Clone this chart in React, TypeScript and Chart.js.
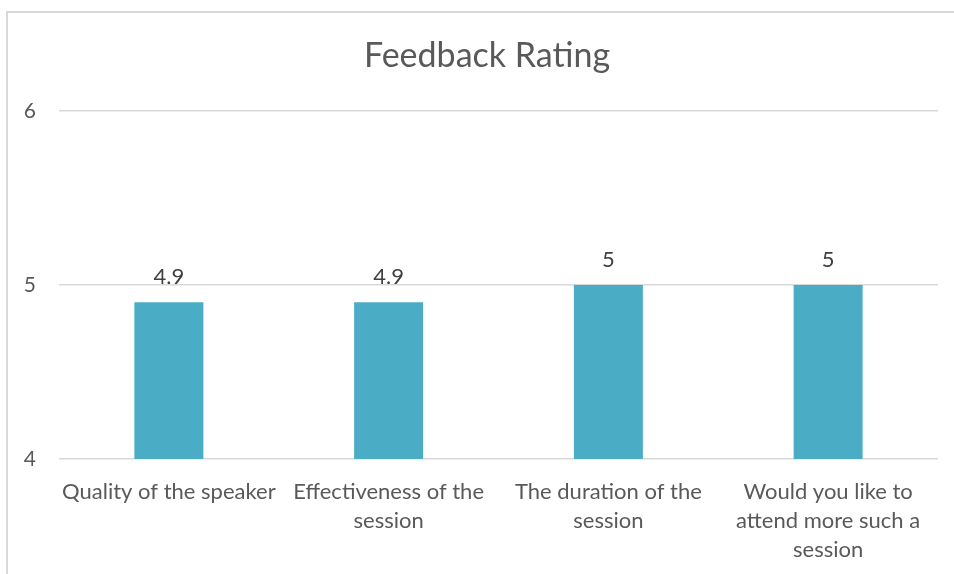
import React, { useEffect, useRef } from "react";
import { Chart, registerables } from "chart.js";

Chart.register(...registerables);

const chartTitle = "Feedback Rating";
const categories: string[][] = [
  ["Quality of the speaker"],
  ["Effectiveness of the", "session"],
  ["The duration of the", "session"],
  ["Would you like to", "attend more such a", "session"],
];
const ratings: number[] = [4.9, 4.9, 5, 5];
const yMin = 4;
const yMax = 6;
const yStep = 1;

const FONT = "Lato, 'Open Sans', sans-serif";

const dataLabels = {
  id: "dataLabels",
  afterDatasetsDraw(chart: any) {
    const ctx = chart.ctx;
    const meta = chart.getDatasetMeta(0);
    const ds = chart.data.datasets[0];
    ctx.save();
    ctx.font = `22px ${FONT}`;
    ctx.fillStyle = "#404040";
    ctx.textAlign = "center";
    ctx.textBaseline = "alphabetic";
    meta.data.forEach((bar: any, i: number) => {
      ctx.fillText(String(ds.data[i]), bar.x, bar.y - 18);
    });
    ctx.restore();
  },
};

export default function App() {
  const ref = useRef<HTMLCanvasElement | null>(null);
  useEffect(() => {
    if (!ref.current) return;
    const chart = new Chart(ref.current, {
      type: "bar",
      data: {
        labels: categories,
        datasets: [
          {
            data: ratings,
            backgroundColor: "#4BACC6",
            barPercentage: 0.314,
            categoryPercentage: 1,
            yAxisID: "y",
          },
        ],
      },
      options: {
        animation: false,
        responsive: false,
        layout: { padding: { left: 0, right: 0, top: 0, bottom: 0 } },
        plugins: {
          legend: { display: false },
          tooltip: { enabled: false },
          title: {
            display: true,
            text: chartTitle,
            color: "#595959",
            font: { family: FONT, size: 34, weight: "normal" as any, lineHeight: 1.2 },
            padding: { top: 36, bottom: 34 },
          },
        },
        scales: {
          x: {
            grid: { display: false, drawTicks: false },
            border: { display: false },
            ticks: {
              color: "#595959",
              font: { family: FONT, size: 22, lineHeight: 1.318 },
              padding: 18,
              maxRotation: 0,
              autoSkip: false,
            },
            afterFit: (s: any) => {
              s.height = 115;
            },
          },
          y: {
            position: "left",
            min: yMin,
            max: yMax,
            ticks: {
              stepSize: yStep,
              color: "#595959",
              font: { family: FONT, size: 21 },
              padding: 23,
            },
            grid: { color: "#d9d9d9", lineWidth: 1.5, drawTicks: false },
            border: { display: false },
            afterFit: (s: any) => {
              s.width = 59;
            },
          },
          yRight: {
            position: "right",
            min: yMin,
            max: yMax,
            ticks: { display: false },
            grid: { display: false, drawTicks: false },
            border: { display: false },
            afterFit: (s: any) => {
              s.width = 36;
            },
          },
        },
      },
      plugins: [dataLabels],
    });
    return () => chart.destroy();
  }, []);

  return (
    <div style={{ position: "absolute", left: 0, top: 0, width: 954, height: 574, background: "#fff", overflow: "hidden" }}>
      <div
        style={{
          position: "absolute",
          left: 6,
          top: 11,
          width: 960,
          height: 600,
          borderLeft: "2px solid #d9d9d9",
          borderTop: "2px solid #d9d9d9",
          boxSizing: "border-box",
        }}
      />
      <canvas ref={ref} width={974} height={574} style={{ position: "absolute", left: 0, top: 0, display: "block" }} />
    </div>
  );
}
